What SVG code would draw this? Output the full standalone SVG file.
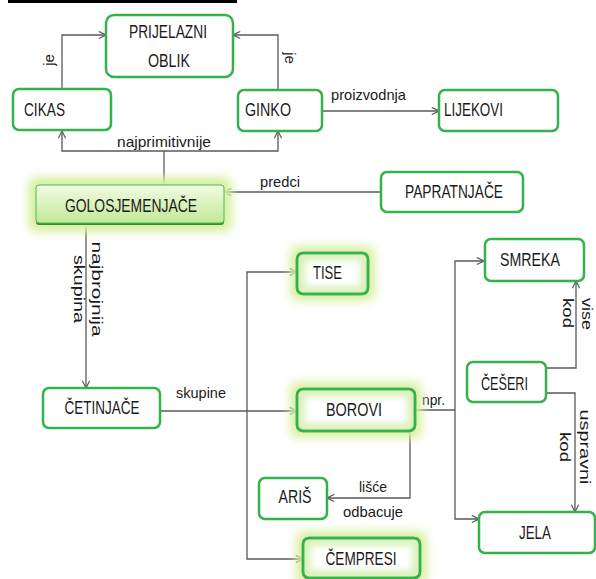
<svg xmlns="http://www.w3.org/2000/svg" width="596" height="579" viewBox="0 0 596 579">
<style>
.box{fill:#fff;stroke:#34b24b;stroke-width:2.5}
.gbox{fill:#dcf1bd;stroke:#34b24b;stroke-width:2.5}
.glow{fill:#d9efa2;filter:url(#blur)}
.t{font-family:"Liberation Sans",Arial,sans-serif;font-size:18px;fill:#1a1a1a}
.m{text-anchor:middle}
.l{font-family:"Liberation Sans",Arial,sans-serif;font-size:15px;fill:#1a1a1a}
.c{fill:none;stroke:#5a5a5a;stroke-width:1.3}
.a{marker-end:url(#arr)}
</style>
<defs>
<marker id="arr" viewBox="0 0 10 10" refX="9" refY="5" markerWidth="9" markerHeight="9" markerUnits="userSpaceOnUse" orient="auto">
<path d="M1,1 L9,5 L1,9" fill="none" stroke="#5a5a5a" stroke-width="1.3"/>
</marker>
<filter id="blur" x="-30%" y="-60%" width="160%" height="220%"><feGaussianBlur stdDeviation="5"/></filter>
<filter id="iblur" x="-30%" y="-60%" width="160%" height="220%"><feGaussianBlur stdDeviation="3"/></filter>
<linearGradient id="golo" x1="0" y1="0" x2="0" y2="1">
<stop offset="0" stop-color="#f2fbe4"/>
<stop offset="1" stop-color="#c3e996"/>
</linearGradient>
</defs>
<rect x="8" y="0" width="229" height="3" fill="#000"/>

<g id="connectors">
<path class="c a" d="M62,89 V35 H106"/>
<path class="c a" d="M278,90 V35 H233"/>
<path class="c a" d="M322,111 H439"/>
<path class="c a" d="M164,185 V151 H62 V131"/>
<path class="c a" d="M164,151 H278 V131"/>
<path class="c a" d="M381,192 H224"/>
<path class="c a" d="M86,227 V388"/>
<path class="c a" d="M160,411 H297"/>
<path class="c a" d="M247,411 V272 H297"/>
<path class="c a" d="M247,411 V559 H303"/>
<path class="c" d="M415,410 H455"/>
<path class="c a" d="M455,410 V261 H484"/>
<path class="c a" d="M455,410 V519 H479"/>
<path class="c a" d="M410,431 V498 H327"/>
<path class="c a" d="M546,368 H576 V281"/>
<path class="c a" d="M546,393 H575 V512"/>
<text class="l m" transform="translate(54,60) rotate(-90)">je</text>
<text class="l m" transform="translate(285,58) rotate(90)">je</text>
<text class="l" x="331" y="100" textLength="75" lengthAdjust="spacingAndGlyphs">proizvodnja</text>
<text class="l m" x="164" y="147" textLength="94" lengthAdjust="spacingAndGlyphs">najprimitivnije</text>
<text class="l" x="260" y="187" textLength="40" lengthAdjust="spacingAndGlyphs">predci</text>
<text class="l m" transform="translate(92,289) rotate(90)" textLength="95" lengthAdjust="spacingAndGlyphs">najbrojnija</text>
<text class="l m" transform="translate(74,289) rotate(90)" textLength="68" lengthAdjust="spacingAndGlyphs">skupina</text>
<text class="l m" x="201" y="398" textLength="50" lengthAdjust="spacingAndGlyphs">skupine</text>
<text class="l" x="422" y="405" textLength="23" lengthAdjust="spacingAndGlyphs">npr.</text>
<text class="l m" transform="translate(582,314) rotate(90)" textLength="32" lengthAdjust="spacingAndGlyphs">vise</text>
<text class="l m" transform="translate(563,313) rotate(90)" textLength="30" lengthAdjust="spacingAndGlyphs">kod</text>
<text class="l m" transform="translate(580,447) rotate(90)" textLength="75" lengthAdjust="spacingAndGlyphs">uspravni</text>
<text class="l m" transform="translate(560,447) rotate(90)" textLength="30" lengthAdjust="spacingAndGlyphs">kod</text>
<text class="l m" x="373" y="492" textLength="28" lengthAdjust="spacingAndGlyphs">lišće</text>
<text class="l m" x="373" y="517" textLength="60" lengthAdjust="spacingAndGlyphs">odbacuje</text>
</g>

<g id="prijelazni"><rect class="box" x="106" y="15" width="127" height="62" rx="8"/>
<text class="t m" x="168" y="38" textLength="78" lengthAdjust="spacingAndGlyphs">PRIJELAZNI</text><text class="t m" x="169" y="67" textLength="42" lengthAdjust="spacingAndGlyphs">OBLIK</text></g>
<g id="cikas"><rect class="box" x="13" y="89" width="98" height="41" rx="6"/><text class="t" x="24" y="116" textLength="41" lengthAdjust="spacingAndGlyphs">CIKAS</text></g>
<g id="ginko"><rect class="box" x="238" y="90" width="84" height="41" rx="6"/><text class="t" x="245" y="116" textLength="46" lengthAdjust="spacingAndGlyphs">GINKO</text></g>
<g id="lijekovi"><rect class="box" x="439" y="90" width="119" height="41" rx="6"/><text class="t" x="444" y="116" textLength="59" lengthAdjust="spacingAndGlyphs">LIJEKOVI</text></g>
<g id="papratnjace"><rect class="box" x="381" y="172" width="142" height="40" rx="6"/><text class="t m" x="454" y="198" textLength="98" lengthAdjust="spacingAndGlyphs">PAPRATNJAČE</text></g>
<g id="golosjemenjace">
<rect class="glow" x="28" y="177" width="204" height="55" rx="8"/>
<rect x="36" y="186" width="188" height="39" rx="3" fill="#2f8f33"/>
<rect x="36" y="185" width="188" height="38" rx="3" fill="url(#golo)" stroke="#4cb84f" stroke-width="1"/>
<text class="t m" x="131" y="212" textLength="132" lengthAdjust="spacingAndGlyphs">GOLOSJEMENJAČE</text></g>
<g id="cetinjace"><rect class="box" x="43" y="388" width="117" height="40" rx="6"/><text class="t m" x="102" y="414" textLength="75" lengthAdjust="spacingAndGlyphs">ČETINJAČE</text></g>
<g id="tise">
<rect class="glow" x="290" y="246" width="85" height="55" rx="8"/>
<rect class="gbox" x="297" y="253" width="71" height="41" rx="6"/>
<rect x="305" y="261" width="55" height="25" fill="#fff" filter="url(#iblur)"/>
<rect x="297" y="253" width="71" height="41" rx="6" fill="none" stroke="#34b24b" stroke-width="2.5"/>
<text class="t" x="313" y="279" textLength="29" lengthAdjust="spacingAndGlyphs">TISE</text></g>
<g id="borovi">
<rect class="glow" x="290" y="382" width="132" height="56" rx="8"/>
<rect class="gbox" x="297" y="389" width="118" height="42" rx="6"/>
<rect x="305" y="397" width="102" height="26" fill="#fff" filter="url(#iblur)"/>
<rect x="297" y="389" width="118" height="42" rx="6" fill="none" stroke="#34b24b" stroke-width="2.5"/>
<text class="t m" x="354" y="416" textLength="56" lengthAdjust="spacingAndGlyphs">BOROVI</text></g>
<g id="smreka"><rect class="box" x="485" y="239" width="99" height="42" rx="6"/><text class="t m" x="530" y="266" textLength="60" lengthAdjust="spacingAndGlyphs">SMREKA</text></g>
<g id="ceseri"><rect class="box" x="467" y="362" width="79" height="40" rx="6"/><text class="t" x="481" y="390" textLength="47" lengthAdjust="spacingAndGlyphs">ČEŠERI</text></g>
<g id="jela"><rect class="box" x="479" y="512" width="116" height="41" rx="6"/><text class="t m" x="535" y="539" textLength="32" lengthAdjust="spacingAndGlyphs">JELA</text></g>
<g id="aris"><rect class="box" x="259" y="478" width="68" height="41" rx="6"/><text class="t m" x="295" y="503" textLength="33" lengthAdjust="spacingAndGlyphs">ARIŠ</text></g>
<g id="cempresi">
<rect class="glow" x="296" y="531" width="131" height="54" rx="8"/>
<rect class="gbox" x="303" y="538" width="117" height="40" rx="6"/>
<rect x="311" y="546" width="101" height="24" fill="#fff" filter="url(#iblur)"/>
<rect x="303" y="538" width="117" height="40" rx="6" fill="none" stroke="#34b24b" stroke-width="2.5"/>
<text class="t m" x="361" y="565" textLength="71" lengthAdjust="spacingAndGlyphs">ČEMPRESI</text></g>
</svg>
